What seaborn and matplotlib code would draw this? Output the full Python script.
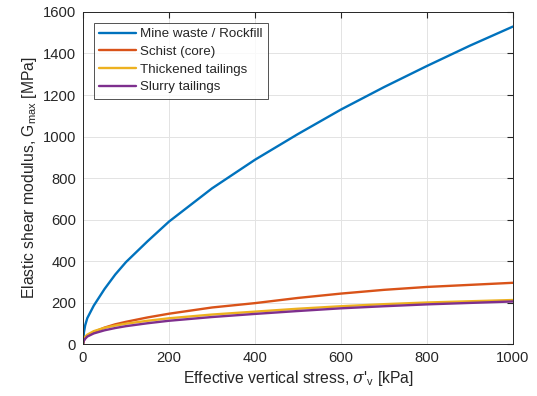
import numpy as np
import pandas as pd
import matplotlib
matplotlib.use("Agg")
import matplotlib.pyplot as plt
import seaborn as sns

# values (kPa -> MPa)
stress = [0, 2, 5, 10, 25, 50, 75, 100, 150, 200, 300, 400, 500, 600, 700, 800, 900, 1000]
mine_waste = [0, 55, 90, 125, 185, 265, 335, 395, 495, 590, 750, 888, 1012, 1130, 1238, 1340, 1438, 1530]
schist = [0, 18, 28, 39, 58, 79, 95, 107, 128, 146, 176, 197, 222, 243, 261, 275, 285, 295]
thickened = [0, 25, 35, 45, 62, 78, 89, 98, 112, 124, 142, 156, 170, 182, 192, 200, 206, 212]
slurry = [0, 16, 25, 36, 51, 66, 77, 86, 100, 112, 130, 145, 159, 172, 182, 191, 198, 205]

names = ["Mine waste / Rockfill", "Schist (core)", "Thickened tailings", "Slurry tailings"]
colors = ["#0072BD", "#D95319", "#EDB120", "#7E2F8E"]

df = pd.concat([
    pd.DataFrame({"stress": stress, "G": vals, "material": n})
    for n, vals in zip(names, [mine_waste, schist, thickened, slurry])
])

sns.set_style("white")
plt.rcParams["font.family"] = ["Liberation Sans", "DejaVu Sans"]
plt.rcParams["mathtext.fontset"] = "custom"
plt.rcParams["mathtext.rm"] = "Liberation Sans"
plt.rcParams["mathtext.it"] = "DejaVu Serif:italic"

fig = plt.figure(figsize=(5.37, 3.96), dpi=100)
ax = fig.add_axes([0.1546, 0.1313, 0.8007, 0.8384])

sns.lineplot(data=df, x="stress", y="G", hue="material", palette=colors,
             hue_order=names, linewidth=1.7, ax=ax, sort=True, estimator=None)

ax.set_xlim(0, 1000)
ax.set_ylim(0, 1600)
ax.set_xticks(range(0, 1001, 200))
ax.set_yticks(range(0, 1601, 200))
ax.grid(True, color="#e3e3e3", linewidth=0.7)
ax.tick_params(direction="in", top=True, right=True, length=4, labelsize=10.6,
               color="#262626", labelcolor="#262626", pad=5)
for s in ax.spines.values():
    s.set_color("#262626")
    s.set_linewidth(0.7)

ax.set_xlabel(r"Effective vertical stress, $\sigma$'$_{\rm v}$ [kPa]", fontsize=11.3,
              color="#262626", labelpad=3)
ax.set_ylabel(r"Elastic shear modulus, G$_{\rm max}$ [MPa]", fontsize=11.3,
              color="#262626", labelpad=3)

leg = ax.legend(loc="upper left", fontsize=9.6, frameon=True, fancybox=False,
                edgecolor="#262626", borderaxespad=0.8, handlelength=2.8,
                labelspacing=0.4, borderpad=0.4, handletextpad=0.3)
leg.get_frame().set_linewidth(0.7)

fig.savefig("out.png", dpi=100)
